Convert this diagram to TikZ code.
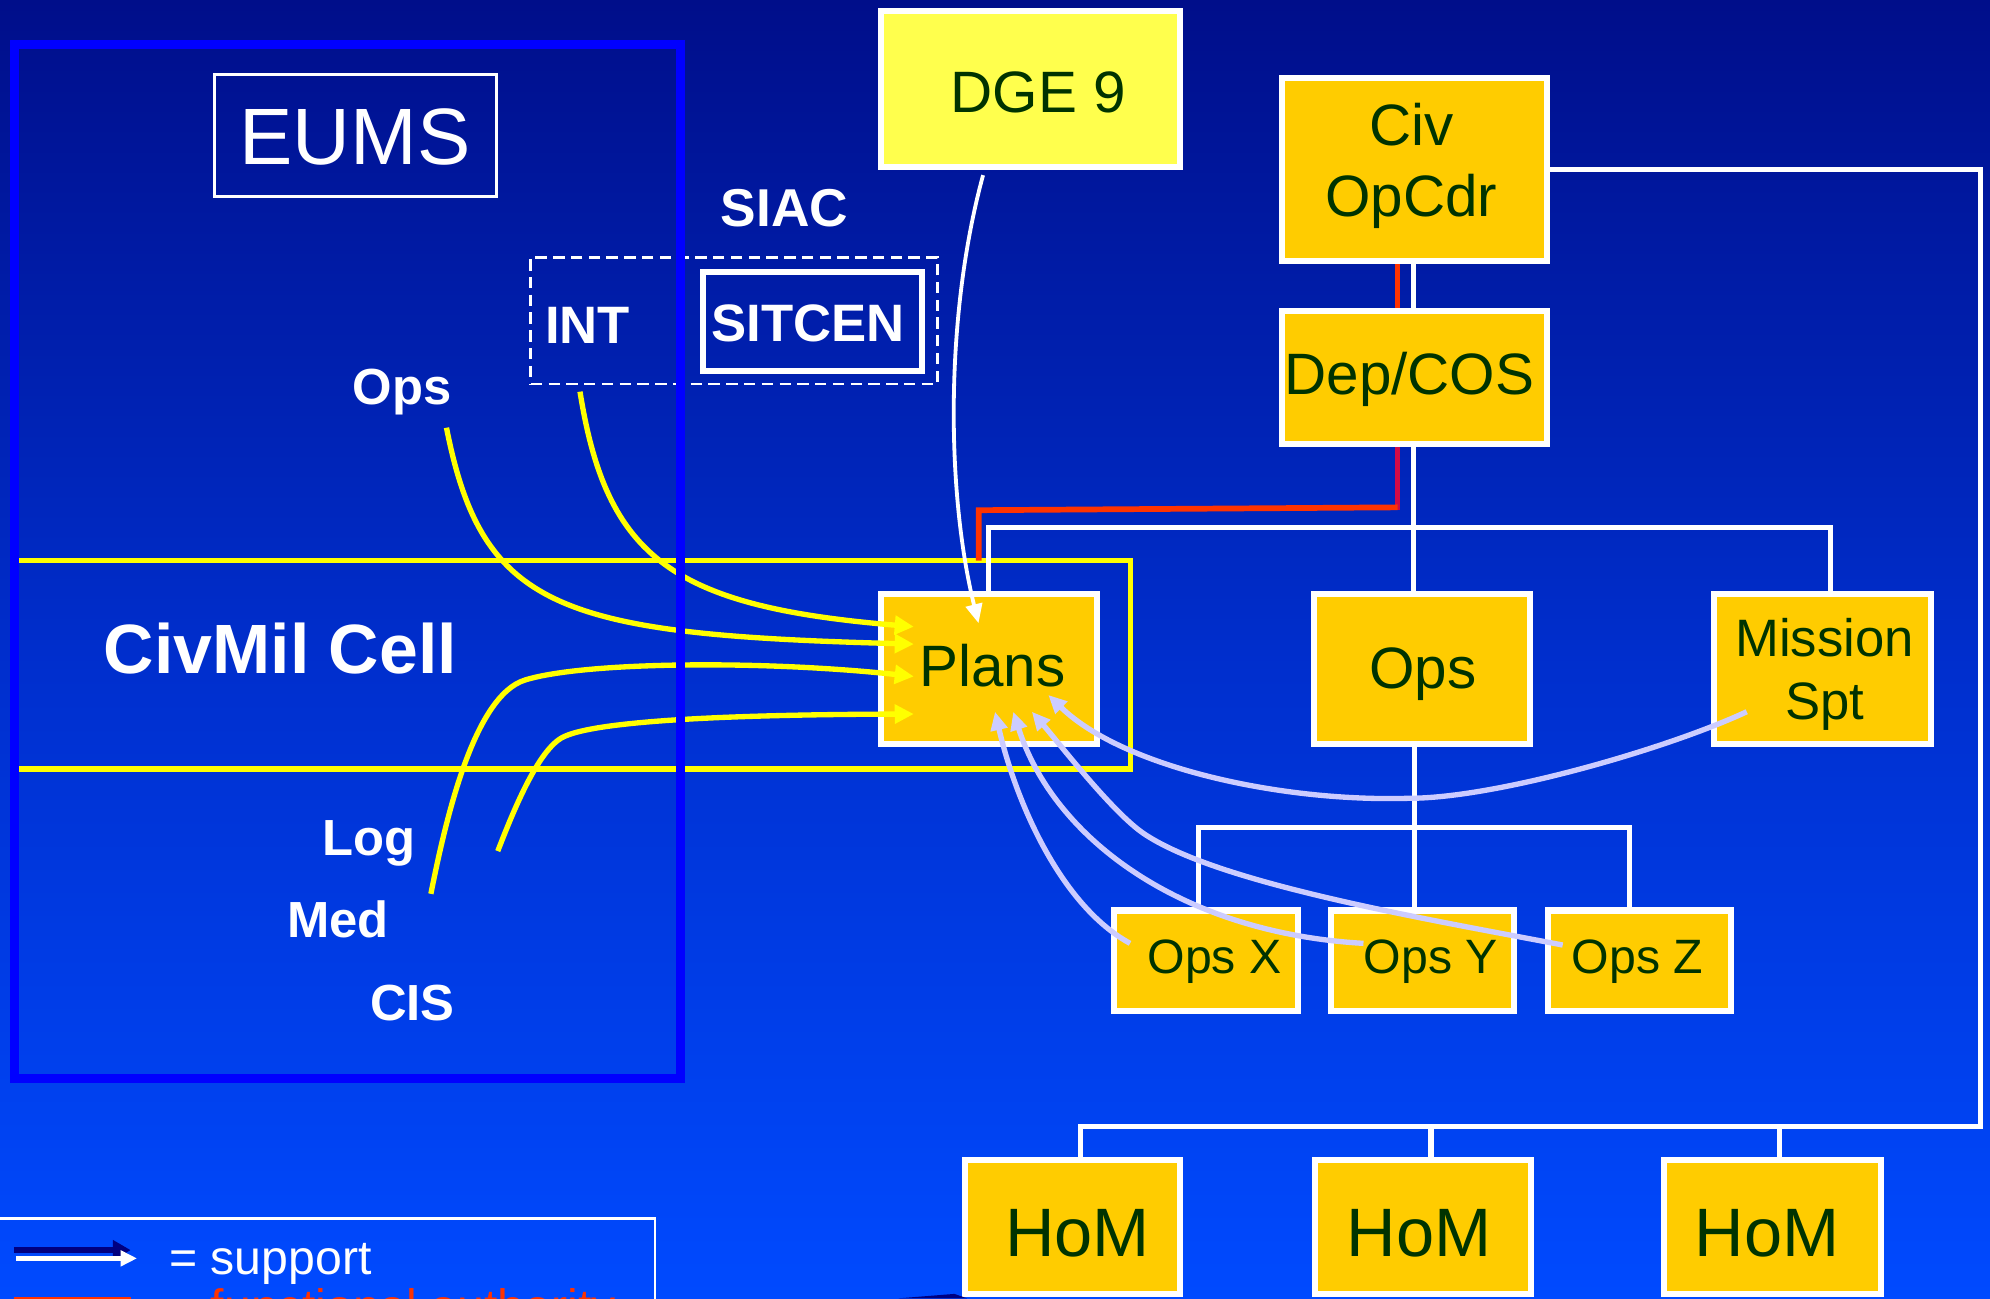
\documentclass[tikz,border=0pt]{standalone}
\usepackage{fontspec}
\setmainfont{Liberation Sans}
\usetikzlibrary{arrows.meta}
\definecolor{bgtop}{RGB}{0,14,138}
\definecolor{bgmid}{RGB}{0,46,204}
\definecolor{bgbot}{RGB}{0,74,255}
\definecolor{gold}{RGB}{255,204,0}
\definecolor{dgefill}{RGB}{255,255,77}
\definecolor{dkgreen}{RGB}{0,51,0}
\definecolor{lav}{RGB}{204,204,255}
\definecolor{ylw}{RGB}{255,255,0}
\definecolor{eumsblue}{RGB}{0,0,255}
\definecolor{fred}{RGB}{255,51,0}
\definecolor{crim}{RGB}{210,10,70}
\definecolor{navy}{RGB}{0,0,128}
\begin{document}
\begin{tikzpicture}[x=1pt,y=-1pt,
  goldbox/.style={rectangle, draw=white, line width=4.8pt, fill=gold, inner sep=0pt, outer sep=0pt},
  dgebox/.style={goldbox, fill=dgefill},
  framebox/.style={rectangle, draw=white, fill=none, inner sep=0pt, outer sep=0pt},
  lbl/.style={text=white, inner sep=0pt, anchor=base, font=\fontsize{40}{48}\selectfont\bfseries},
  btxt/.style={text=dkgreen, inner sep=0pt, anchor=base, font=\fontsize{46}{55}\selectfont},
  wline/.style={draw=white, line width=4pt, line join=miter},
  rline/.style={draw=fred, line width=4.5pt, line join=miter},
  ycurve/.style={draw=ylw, line width=4.2pt, -{Triangle[length=15pt,width=14.5pt]}},
  yband/.style={draw=ylw, line width=4.2pt, line join=miter},
  lavarrow/.style={draw=lav, line width=4.2pt, -{Triangle[length=14.5pt,width=13pt]}},
  warrow/.style={draw=white, line width=3pt, -{Triangle[length=15pt,width=13pt]}}
]
\useasboundingbox (0,0) rectangle (1568,1023);
\clip (0,0) rectangle (1568,1023);
\shade[top color=bgtop, bottom color=bgbot, middle color=bgmid] (0,0) rectangle (1568,1023);

% CivMil band
\draw[yband] (14.8,441.7) -- (890.5,441.7) -- (890.5,605.8) -- (14.8,605.8);

% boxes
\node[dgebox, minimum width=235.5pt, minimum height=122.5pt] (dge) at (811.75,70.25) {};
\node[goldbox, minimum width=208.9pt, minimum height=144.4pt] (civ) at (1114.75,133.4) {};
\node[goldbox, minimum width=208.9pt, minimum height=104.6pt] (depcos) at (1114.75,297.5) {};
\node[goldbox, minimum width=170pt, minimum height=118pt] (plans) at (779.25,527.15) {};
\node[goldbox, minimum width=170.2pt, minimum height=118pt] (ops) at (1120.5,527.15) {};
\node[goldbox, minimum width=171.2pt, minimum height=118pt] (mission) at (1436,527.15) {};
\node[goldbox, minimum width=144.7pt, minimum height=79.2pt] (opsx) at (950.25,757) {};
\node[goldbox, minimum width=144.5pt, minimum height=79.2pt] (opsy) at (1120.65,757) {};
\node[goldbox, minimum width=144.5pt, minimum height=79.2pt] (opsz) at (1291.65,757) {};
\node[goldbox, minimum width=169.8pt, minimum height=105pt] (hom1) at (844.9,966.8) {};
\node[goldbox, minimum width=170.3pt, minimum height=105pt] (hom2) at (1121.15,966.8) {};
\node[goldbox, minimum width=171pt, minimum height=105pt] (hom3) at (1396.85,966.8) {};

% white structure connectors (behind boxes)
\begin{scope}[on background layer/.style={}]
\end{scope}
\coordinate (msdrop) at (1442.3,415.3);
\coordinate (hbR) at (1560.2,887.8);
\coordinate (hb1) at (851.5,887.8);
\coordinate (hb2) at (1127.5,887.8);
\coordinate (hb3) at (1401.8,887.8);
\coordinate (obL) at (944,652);
\coordinate (obM) at (1114.3,652);
\coordinate (obR) at (1284,652);
\coordinate (redA) at (1101.2,208);
\coordinate (redB) at (1101.2,243);
\coordinate (redC) at (1101.2,350);
\coordinate (redD) at (1101.2,402);
\coordinate (redE) at (771.2,402);
\coordinate (redF) at (771.2,441.7);

\draw[wline] (1114,205.6) -- (1114,245.2);
\draw[wline] (1114,349.8) -- (1114,468.1);
\draw[wline] ([xshift=-0.5pt]plans.north) |- (msdrop) -- (msdrop |- mission.north);
\draw[wline] (obM |- ops.south) -- (obM |- opsy.north);
\draw[wline] (obL |- opsx.north) |- (obR) -- (obR |- opsz.north);
\draw[wline] (civ.east) -| (hbR) -- (hb1) -- (hb1 |- hom1.north);
\draw[wline] (hb2) -- (hb2 |- hom2.north);
\draw[wline] (hb3) -- (hb3 |- hom3.north);
\draw[rline] (redA) -- (redB);
\draw[draw=crim, line width=4.5pt] (redC) -- (redD);
\draw[rline] ([yshift=2.25pt]redD) -- (redE) -- (redF);

% redraw boxes on top of connectors
\node[dgebox, minimum width=235.5pt, minimum height=122.5pt] at (dge) {};
\node[goldbox, minimum width=208.9pt, minimum height=144.4pt] at (civ) {};
\node[goldbox, minimum width=208.9pt, minimum height=104.6pt] at (depcos) {};
\node[goldbox, minimum width=170pt, minimum height=118pt] at (plans) {};
\node[goldbox, minimum width=170.2pt, minimum height=118pt] at (ops) {};
\node[goldbox, minimum width=171.2pt, minimum height=118pt] at (mission) {};
\node[goldbox, minimum width=144.7pt, minimum height=79.2pt] at (opsx) {};
\node[goldbox, minimum width=144.5pt, minimum height=79.2pt] at (opsy) {};
\node[goldbox, minimum width=144.5pt, minimum height=79.2pt] at (opsz) {};
\node[goldbox, minimum width=169.8pt, minimum height=105pt] at (hom1) {};
\node[goldbox, minimum width=170.3pt, minimum height=105pt] at (hom2) {};
\node[goldbox, minimum width=171pt, minimum height=105pt] at (hom3) {};

% box texts
\node[btxt] (dgeT) at (818,89) {DGE 9};
\node[btxt] (civT1) at (1112,114.6) {Civ};
\node[btxt] (civT2) at (1112,170.4) {OpCdr};
\node[btxt] (depT) at (1110.5,310.6) {Dep/COS};
\node[btxt] (plansT) at (782,541.1) {Plans};
\node[btxt] (opsT) at (1121,542.4) {Ops};
\node[btxt, font=\fontsize{41.5}{50}\selectfont] (misT1) at (1437.7,517.4) {Mission};
\node[btxt, font=\fontsize{41.5}{50}\selectfont] (misT2) at (1437.7,567.3) {Spt};
\node[btxt, font=\fontsize{38}{46}\selectfont] (opsxT) at (957,767) {Ops X};
\node[btxt, font=\fontsize{38}{46}\selectfont] (opsyT) at (1127.3,767) {Ops Y};
\node[btxt, font=\fontsize{38}{46}\selectfont] (opszT) at (1290.3,767) {Ops Z};
\node[btxt, font=\fontsize{54}{64}\selectfont] (hom1T) at (848.9,990.2) {HoM};
\node[btxt, font=\fontsize{54}{64}\selectfont] (hom2T) at (1118,990.2) {HoM};
\node[btxt, font=\fontsize{54}{64}\selectfont] (hom3T) at (1392.4,990.2) {HoM};

% SIAC group
\node[framebox, draw=white, line width=2.2pt, dash pattern=on 9pt off 5pt, minimum width=320.4pt, minimum height=99.8pt] (siacbox) at (578.4,252.7) {};
\node[framebox, line width=4.7pt, minimum width=172.5pt, minimum height=78pt] (sitcen) at (640.25,253.5) {};
\node[lbl, font=\fontsize{41.5}{50}\selectfont\bfseries] (sitcenT) at (636.9,269.2) {SITCEN};
\node[lbl, font=\fontsize{41.5}{50}\selectfont\bfseries] (intT) at (463,270.5) {INT};
\node[lbl, font=\fontsize{42}{50}\selectfont\bfseries] (siacT) at (618,178.6) {SIAC};

% yellow inputs
\coordinate (yA) at (351.8,337);
\coordinate (yB) at (457,308.6);
\coordinate (yC) at (339.5,704.3);
\coordinate (yD) at (392.2,670.6);
\coordinate (tA) at (720,507.5);
\coordinate (tB) at (720,493.8);
\coordinate (tC) at (720,533);
\coordinate (tD) at (720,562.6);
\draw[ycurve] (yA) .. controls (380,480) and (440,500) .. (tA);
\draw[ycurve] (yB) .. controls (478,440) and (530,478) .. (tB);
\draw[ycurve] (yC) .. controls (351.5,644) and (373.7,548.2) .. (413.7,535.8) .. controls (459.7,521.5) and (600,520) .. (tC);
\draw[ycurve] (yD) .. controls (402,645.6) and (421.8,594.2) .. (441.8,581.8) .. controls (466.8,566.3) and (600,563) .. (tD);

% EUMS frame
\draw[draw=eumsblue, line width=7pt] (11.25,35) rectangle (536.5,849.6);
\node[framebox, line width=2.4pt, minimum width=221.7pt, minimum height=95.7pt] (eumsbox) at (280.2,106.65) {};
\node[lbl, font=\fontsize{63}{72}\selectfont] (eumsT) at (279.7,129.7) {EUMS};
\node[lbl] (opsL) at (317,318.5) {Ops};
\node[lbl, font=\fontsize{55}{64}\selectfont\bfseries] (civmilT) at (221,530.7) {CivMil Cell};
\node[lbl] (logL) at (291,673.9) {Log};
\node[lbl] (medL) at (266.5,738.8) {Med};
\node[lbl] (cisL) at (325,804.4) {CIS};

% lavender feedback arrows
\coordinate (lX) at (890.4,743.3);
\coordinate (lY) at (1074.3,743.3);
\coordinate (lZ) at (1231.3,744.6);
\coordinate (lM) at (1376.3,560.8);
\coordinate (pX) at (784,560.8);
\coordinate (pY) at (798.4,560.8);
\coordinate (pZ) at (813,560.8);
\coordinate (pM) at (826,547.6);
\draw[lavarrow] (lX) .. controls (835,713) and (800,630) .. (pX);
\draw[lavarrow] (lY) .. controls (930,735) and (830,660) .. (pY);
\draw[lavarrow] (lZ) .. controls (1121,723.6) and (958.7,696) .. (900.9,656.6) .. controls (876.1,639.7) and (833,583.8) .. (pZ);
\draw[lavarrow] (lM) .. controls (1316,589) and (1180,629) .. (1110,629) .. controls (1010,632) and (885,605) .. (pM);

% DGE 9 arrow
\coordinate (dgeS) at (774.6,138);
\coordinate (dgeE) at (771,491);
\draw[warrow] (dgeS) .. controls (744,250) and (746,390) .. (dgeE);

% legend
\node[framebox, line width=2pt, minimum width=520pt, minimum height=120pt] (legend) at (256,1020) {};
\coordinate (nv1) at (11,985);
\coordinate (nv2) at (103,985);
\coordinate (wh1) at (13,991.5);
\coordinate (wh2) at (108,991.5);
\draw[draw=navy, line width=5pt, -{Triangle[length=14pt,width=15pt]}] (nv1) -- (nv2);
\draw[draw=white, line width=4.5pt, -{Triangle[length=13pt,width=12pt]}] (wh1) -- (wh2);
\node[text=white, inner sep=0pt, anchor=base west, font=\fontsize{38}{46}\selectfont] (supT) at (133.2,1003.9) {= support};
\coordinate (rl1) at (11,1024.3);
\coordinate (rl2) at (103,1024.3);
\draw[draw=fred, line width=4.5pt] (rl1) -- (rl2);
\node[text=fred, inner sep=0pt, anchor=base west, font=\fontsize{38}{46}\selectfont] (faT) at (166,1042.5) {functional authority};
\fill[navy] (708,1023) -- (752,1019.5) -- (762,1023) -- cycle;
\end{tikzpicture}
\end{document}
